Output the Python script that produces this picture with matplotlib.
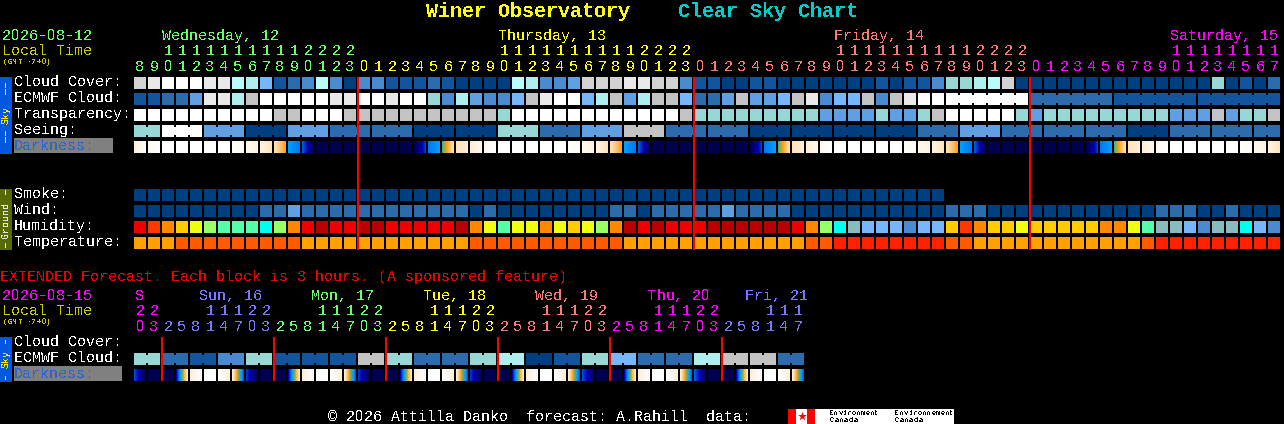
import numpy as np
import matplotlib
matplotlib.use("Agg")
import matplotlib.pyplot as plt
from matplotlib.colors import LinearSegmentedColormap

# ---------- data ----------
hours = [8,9,10,11,12,13,14,15,16,17,18,19,20,21,22,23,
         0,1,2,3,4,5,6,7,8,9,10,11,12,13,14,15,16,17,18,19,20,21,22,23,
         0,1,2,3,4,5,6,7,8,9,10,11,12,13,14,15,16,17,18,19,20,21,22,23,
         0,1,2,3,4,5,6,7,8,9,10,11,12,13,14,15,16,17]
hour_days = [0]*16 + [1]*24 + [2]*24 + [3]*18
day_names = ["Wednesday, 12", "Thursday, 13", "Friday, 14", "Saturday, 15"]
day_name_cols = [2, 26, 50, 74]
day_colors = ["#66ff66", "#ffff00", "#ff7777", "#ff00ff"]

cloud_cover = ("h e w w w e e 8 7 5 1 2 3 8 3 0 3 3 1 1 1 "
               "2 1 0 0 0 0 8 7 3 3 4 h h h e e h h 3 "
               "1 1 0 0 1 1 0 0 0 0 0 0 "
               "0 1 0 1 1 3 6 6 7 8 h 0 "
               "0 0 0 0 0 0 0 0 0 0 0 0 0 6 0 1 0 2").split()
ecmwf_cloud = ("1 1 2 2 4 e e 7 g w w w w w e e w w e w w "
               "6 3 7 4 3 3 5 g e w w 5 7 g 4 7 g g 5 "
               "2 2 4 g 4 4 5 g e 3 5 5 "
               "g 3 g e w w w w w w w w "
               "2 2 2 2 2 2 1 1 1 1 1 1 1 1 1 1 1 1").split()
ecmwf_groups = [(58, 63), (64, 69), (70, 75), (76, 81)]
transparency = ("w w w w w w w w w w g g w w w g g g g g g "
                "g g g g g 6 w w w w w w w w w w w w g "
                "6 6 6 6 6 6 6 6 6 4 4 4 "
                "4 6 4 4 6 g w w w w w 6 "
                "4 6 6 6 6 6 6 6 6 6 4 4 4 g 4 6 6 g").split()
seeing_groups = [(0, 1), (2, 4), (5, 7), (8, 10), (11, 13), (14, 16), (17, 19),
                 (20, 22), (23, 25), (26, 28), (29, 31), (32, 34), (35, 37),
                 (38, 40), (41, 43), (44, 46), (47, 49), (50, 52), (53, 55),
                 (56, 58), (59, 61), (62, 64), (65, 67), (68, 70), (71, 73),
                 (74, 76), (77, 79), (80, 81)]
seeing_values = "6 w 4 0 4 2 2 0 0 6 2 4 g 2 2 0 0 0 0 2 4 2 2 2 0 2 2 2".split()

dark_start = [8,8.7,9,9,9,9,9,9,8.6,8.2,7.6,4,3,.5,.5,.5,.5,.5,.5,.5,.5,3.4,5,7.6,
              8,8.6,9,9,9,9,9,9,8.6,8.2,7.6,4,3,.5,.5,.5,.5,.5,.5,.5,.5,3.4,5,7.6,
              8,8.6,9,9,9,9,9,9,8.6,8.2,7.6,4,3,.5,.5,.5,.5,.5,.5,.5,.5,3.4,5,7.6,
              8,8.6,9,9,9,9,9,9,8.6,8.2]
dark_end =   [9,9,9,9,9,9,9,8.7,8.2,7.6,6,3.4,.8,.5,.5,.5,.5,.5,.5,.5,2.6,4,7.5,8,
              8.6,9,9,9,9,9,9,8.7,8.2,7.6,6,3.4,.8,.5,.5,.5,.5,.5,.5,.5,2.6,4,7.5,8,
              8.6,9,9,9,9,9,9,8.7,8.2,7.6,6,3.4,.8,.5,.5,.5,.5,.5,.5,.5,2.6,4,7.5,8,
              8.6,9,9,9,9,9,9,8.7,8.2,7.6]

smoke = ["0"] * 58
wind = ("0 0 0 0 0 0 0 0 0 2 2 4 2 2 2 2 2 2 2 2 2 "
        "2 2 2 0 2 0 0 0 0 0 0 0 0 2 2 0 2 2 2 "
        "2 2 4 2 2 2 2 0 0 0 0 0 "
        "0 0 0 0 0 0 2 2 2 0 0 0 "
        "0 0 0 0 0 0 0 0 0 2 2 2 0 0 2 0 0 0").split()
humidity = ("R O A G Y L M M M C L A R D R R D D R R R "
            "R R D A Y M Y Y A Y G Y L A D R D R R "
            "R D D D D D D R A L C T "
            "B B B K B B G O A G G Y "
            "G G G G G A A Y M T T B K T T C B K").split()
temperature = ("a a a o o o o o o o o o a a a a a a a a a "
               "a a a o o o o o o o o o o o a a a a a "
               "a a a a a a a a o o r r "
               "r r r r r r o o a a a a "
               "a a a a a a a a o r r r r r r r r r").split()

ext_hours = [20,23,2,5,8,11,14,17,20,23,2,5,8,11,14,17,20,23,2,5,8,11,14,17,
             20,23,2,5,8,11,14,17,20,23,2,5,8,11,14,17,20,23,2,5,8,11,14,17]
ext_days = [0]*2 + [1]*8 + [2]*8 + [3]*8 + [4]*8 + [5]*8 + [6]*6
ext_colors = ["#ff00ff", "#7777ff", "#66ff66", "#ffff00", "#ff7777", "#ff00ff", "#7777ff"]
ext_names = ["S", "Sun, 16", "Mon, 17", "Tue, 18", "Wed, 19", "Thu, 20", "Fri, 21"]
ext_name_cols = [0, 4.6, 12.6, 20.6, 28.6, 36.6, 43.6]
ext_ecmwf = "6 2 1 3 6 1 1 1 g 6 2 2 6 7 0 1 6 5 2 2 7 g g 2".split()
ext_dark_start = [2.8,.5,.5,2,8,9,9,8, 2.6,.5,.5,2,8,9,9,8, 2.6,.5,.5,2,8,9,9,8,
                  2.6,.5,.5,2,8,9,9,8, 2.8,.5,.5,2,8,9,9,8, 3,.5,.5,2,8,9,9,8]
ext_dark_end =   [.5,.5,.5,8,9,9,8,3, .5,.5,.5,8,9,9,8,3, .5,.5,.5,8,9,9,8,3,
                  .5,.5,.5,8,9,9,8,3, 1,.5,.5,8,9,9,8,3, 1,.5,.5,8,9,9,8,3]

sky_labels = ["Cloud Cover:", "ECMWF Cloud:", "Transparency:", "Seeing:"]
ground_labels = ["Smoke:", "Wind:", "Humidity:", "Temperature:"]
midnight_cols = [16, 40, 64]
ext_midnight_cols = [2, 10, 18, 26, 34, 42]

# ---------- styles ----------
palette = {"0": "#003f7f", "1": "#13559c", "2": "#2c6cad", "3": "#4a8bd0",
           "4": "#619fe3", "5": "#76b6fb", "6": "#97d7d5", "7": "#aeeeee",
           "8": "#bafcfc", "g": "#c3c3c3", "h": "#d2d2d2", "e": "#e9e9e9",
           "w": "#ffffff",
           "D": "#b80000", "R": "#ee0000", "O": "#ff3800", "A": "#ff8800",
           "G": "#ffcc00", "Y": "#eeff11", "L": "#99ff66", "M": "#55ffaa",
           "C": "#00ffee", "T": "#88bbbb", "B": "#76b6fb", "K": "#4a8bd0",
           "a": "#ffa000", "o": "#ff5a00", "r": "#ff2000"}
dark_cmap = LinearSegmentedColormap.from_list("dark", [
    (0/9, "#000040"), (0.5/9, "#000050"), (1/9, "#000070"), (2/9, "#0000b0"),
    (3/9, "#0060e8"), (4/9, "#00a0ff"), (5/9, "#50b080"), (6/9, "#ffa010"),
    (7/9, "#ffcf90"), (8/9, "#ffeed8"), (9/9, "#ffffff")], N=512)

X0, PITCH, BW, BH = 134, 14, 12, 12
MONO = "Liberation Mono"
PLAIN = "Liberation Sans"
PX = 72 / 100
plt.rcParams["text.antialiased"] = False
plt.rcParams["text.hinting"] = "native"
plt.rcParams["text.hinting_factor"] = 1
plt.rcParams["font.family"] = [MONO, "DejaVu Sans Mono"]

fig = plt.figure(figsize=(12.84, 4.24), dpi=100, facecolor="black")
ax = fig.add_axes([0, 0, 1, 1], facecolor="black")


def col_x(c):
    return X0 + PITCH * np.asarray(c)


def rect(x, y, w, h, color, z=2):
    ax.bar(x, h, w, bottom=y, align="edge", color=color, linewidth=0,
           antialiased=False, zorder=z)


def row(codes, y):
    rect(col_x(np.arange(len(codes))), y, BW, BH, [palette[c] for c in codes])


def bridge(c0, c1, code, y):
    for c in range(c0, c1):
        rect(col_x(c) + BW, y + 2, PITCH - BW, BH - 4, palette[code])


def gradient(starts, ends, y):
    for i, (a, b) in enumerate(zip(starts, ends)):
        x = col_x(i)
        ax.imshow(np.linspace(a, b, BW)[None, :], extent=(x, x + BW, y + BH, y),
                  cmap=dark_cmap, vmin=0, vmax=9, aspect="auto",
                  interpolation="nearest", zorder=2)


def char(xc, y, ch, color, px, **kw):
    # the reference's zero has no dot, so zeros come from the plain face
    fam = {"family": PLAIN} if ch == "0" else {}
    ax.text(xc, y, ch, color=color, fontsize=px * PX, va="baseline", ha="center", **fam, **kw)


def txt(x, y, s, color="white", px=15, adv=None, **kw):
    if adv is None and "0" not in s:
        ax.text(x, y, s, color=color, fontsize=px * PX, va="baseline", ha="left", **kw)
        return
    adv = adv or 0.6 * px
    for n, ch in enumerate(s):
        if ch != " ":
            char(x + (n + 0.5) * adv, y, ch, color, px, **kw)


def dash(x, segments, color):
    for y0, y1 in segments:
        rect(x, y0, 1, y1 - y0, color, z=3)


ROW_SKY = [77, 93, 109, 125]
ROW_DARK = 141
ROW_GROUND = [189, 205, 221, 237]

# ---------- title ----------
txt(426, 17, "Winer Observatory", "#ffff00", px=20, fontweight="bold")
txt(678, 17, "Clear Sky Chart", "#00cccc", px=20, fontweight="bold")

# ---------- header ----------
txt(2, 40, "2026-08-12", "#66ff66")
txt(2, 55, "Local Time", "#cccc00")
txt(3, 64, "(GMT -7+0)", "#cccc00", px=8)
for name, c, col in zip(day_names, day_name_cols, day_colors):
    txt(col_x(c), 40, name, col)
for i, (h, d) in enumerate(zip(hours, hour_days)):
    xc = col_x(i) + BW / 2
    if h >= 10:
        char(xc, 55, str(h // 10), day_colors[d], 15)
    char(xc, 71, str(h % 10), day_colors[d], 15)

# ---------- main rows ----------
row(cloud_cover, ROW_SKY[0])
row(ecmwf_cloud, ROW_SKY[1])
for a, b in ecmwf_groups:
    bridge(a, b, ecmwf_cloud[a], ROW_SKY[1])
row(transparency, ROW_SKY[2])
seeing = [None] * len(hours)
for (a, b), v in zip(seeing_groups, seeing_values):
    for c in range(a, b + 1):
        seeing[c] = v
    bridge(a, b, v, ROW_SKY[3])
row(seeing, ROW_SKY[3])
gradient(dark_start, dark_end, ROW_DARK)
row(smoke, ROW_GROUND[0])
row(wind, ROW_GROUND[1])
row(humidity, ROW_GROUND[2])
row(temperature, ROW_GROUND[3])

for c in midnight_cols:
    rect(col_x(c) - 1, 77, 2, 173, "#ff0000", z=4)

# ---------- row labels ----------
for lab, y in zip(sky_labels, ROW_SKY):
    txt(14, y + 9, lab)
rect(14, 138, 99, 15, "#808080")
txt(14, 150, "Darkness:", "#2a62d8", zorder=3)
for lab, y in zip(ground_labels, ROW_GROUND):
    txt(14, y + 9, lab)

rect(0, 77, 12, 77, "#0058e0")
ax.text(6, 115.5, "Sky", color="#ffee00", rotation=90, ha="center", va="center", fontsize=10 * PX, zorder=3)
dash(5, [(83, 88), (89, 95), (131, 136), (137, 143)], "#ffee00")
rect(0, 189, 12, 61, "#556b00")
ax.text(6, 219.5, "Ground", color="#e8e8e8", rotation=90, ha="center", va="center", fontsize=10 * PX, zorder=3)
dash(5, [(190, 195), (243, 248)], "#e8e8e8")

# ---------- extended forecast ----------
txt(0, 281, "EXTENDED Forecast. Each block is 3 hours. (A sponsored feature)", "#ee0000")
txt(2, 300, "2026-08-15", "#ff00ff")
txt(2, 315, "Local Time", "#cccc00")
txt(3, 324, "(GMT -7+0)", "#cccc00", px=8)
for name, c, col in zip(ext_names, ext_name_cols, ext_colors):
    txt(col_x(c) + 1, 300, name, col)
for i, (h, d) in enumerate(zip(ext_hours, ext_days)):
    xc = col_x(i) + BW / 2
    if h >= 10:
        char(xc, 315, str(h // 10), ext_colors[d], 15)
    char(xc, 331, str(h % 10), ext_colors[d], 15)

for lab, y in zip(["Cloud Cover:", "ECMWF Cloud:"], [346, 362]):
    txt(14, y, lab)
rect(14, 366, 108, 15, "#808080")
txt(14, 378, "Darkness:", "#2a62d8", zorder=3)
rect(0, 337, 12, 45, "#0058e0")
ax.text(6, 359.5, "Sky", color="#ffee00", rotation=90, ha="center", va="center", fontsize=10 * PX, zorder=3)
dash(5, [(340, 344), (376, 380)], "#ffee00")

for i, v in enumerate(ext_ecmwf):
    rect(col_x(2 * i), 353, BW, BH, palette[v])
    rect(col_x(2 * i + 1), 353, BW, BH, palette[v])
    bridge(2 * i, 2 * i + 1, v, 353)
gradient(ext_dark_start, ext_dark_end, 369)
for c in ext_midnight_cols:
    rect(col_x(c) - 1, 337, 2, 44, "#ff0000", z=4)

# ---------- footer ----------
txt(328, 421, "\u00a9 2026 Attilla Danko  forecast: A.Rahill  data:")
rect(788, 409, 166, 15, "#ffffff")
rect(788, 409, 8, 15, "#ff0000")
rect(807, 409, 8, 15, "#ff0000")
ax.scatter([801.5], [416], s=45, marker="*", color="#ff0000", linewidth=0, zorder=3)
txt(829, 415, "Environment", "black", px=7.5, adv=4.55, zorder=3)
txt(829, 422, "Canada", "black", px=7.5, adv=4.8, zorder=3)
txt(894, 415, "Environnement", "black", px=7.5, adv=4.6, zorder=3)
txt(894, 422, "Canada", "black", px=7.5, adv=4.8, zorder=3)

ax.set_xlim(0, 1284)
ax.set_ylim(424, 0)
ax.axis("off")

fig.savefig("out.png", dpi=100, facecolor="black")
